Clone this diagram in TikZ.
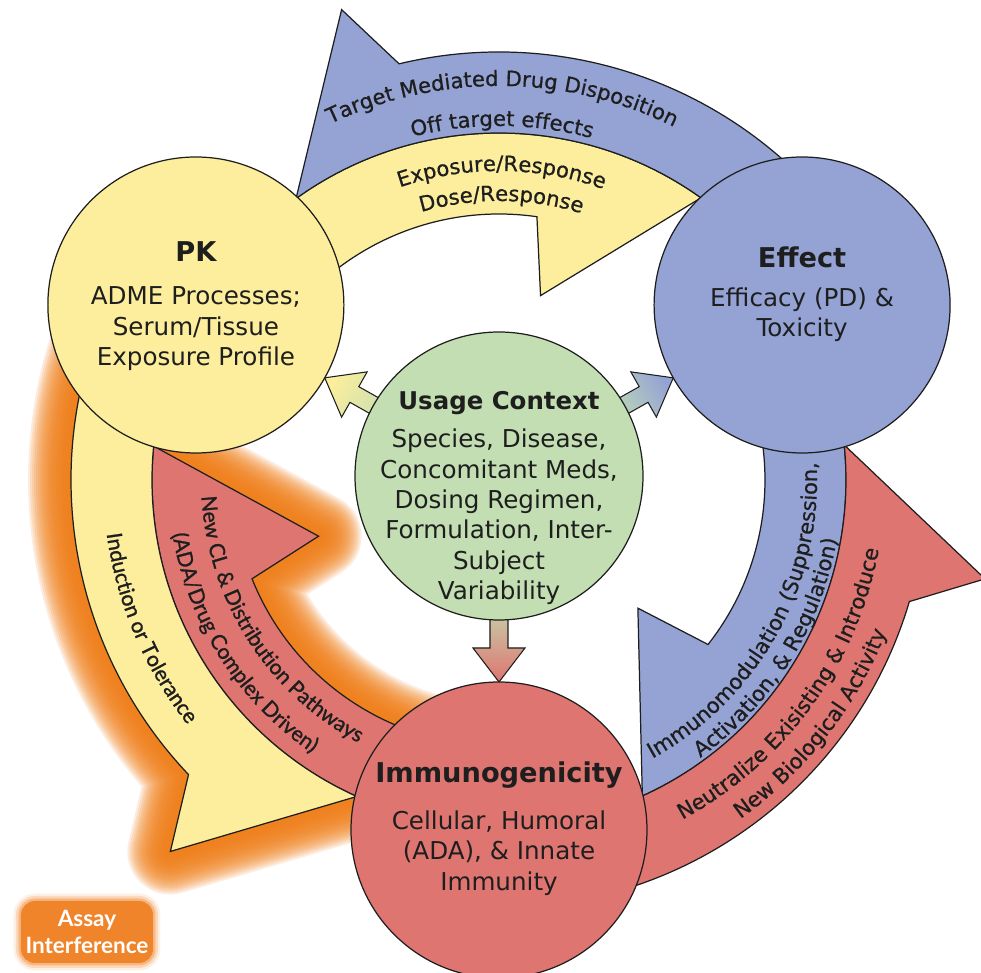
\documentclass[tikz,border=0pt]{standalone}
\usepackage{fontspec}
\setmainfont{DejaVu Sans}
\newfontface\arcfont[FakeBold=0.7]{DejaVu Sans}
\newfontface\latofont[FakeBold=1.2]{Lato}
\newfontface\latobold{Lato Bold}
\usepackage{tikz}
\usetikzlibrary{backgrounds, decorations.text}

\definecolor{pkyellow}{HTML}{FCEE9C}
\definecolor{effblue}{HTML}{94A3D4}
\definecolor{immred}{HTML}{DE7571}
\definecolor{ctxgreen}{HTML}{C3DEB3}
\definecolor{halo}{HTML}{EE7B14}
\definecolor{assayorange}{HTML}{F0842A}
\definecolor{ink}{HTML}{1E1E1E}

\newcommand{\arcsize}{\fontsize{12}{14}\selectfont}

\begin{document}
\begin{tikzpicture}[
    x=0.2mm, y=0.2mm,
    hub/.style={circle, draw=ink, line width=0.7pt, minimum size=59.2mm, inner sep=0pt},
    head/.style={text=ink, font=\fontsize{15.5}{18}\selectfont\bfseries},
    body/.style={text=ink, align=center, font=\fontsize{14}{17.3}\selectfont},
    band/.style={draw=ink, line width=0.7pt},
    fat/.style={draw=ink, line width=0.6pt},
    arctext/.style={decorate, decoration={text along path, text align=center,
                    text color=ink, text={#1}}},
    assay/.style={rounded corners=2.8mm, fill=assayorange, text=white, align=center,
                  minimum width=26.4mm, minimum height=12.4mm, inner sep=0pt,
                  font=\latobold\fontsize{12.8}{15.6}\selectfont,
                  preaction={draw=assayorange, draw opacity=0.12, line width=3mm},
                  preaction={draw=assayorange, draw opacity=0.22, line width=2mm},
                  preaction={draw=assayorange, draw opacity=0.4, line width=1mm}}
  ]

  \useasboundingbox (-499,-493) rectangle (482,480);

  % the four hubs
  \node[hub, fill=pkyellow] (pk) at (150:350) {};
  \node[hub, fill=effblue] (effect) at (30:350) {};
  \node[hub, fill=immred] (immuno) at (270:350) {};
  \node[hub, fill=ctxgreen, minimum size=57.6mm] (ctx) at (0,4) {};

  \node[head] (pk head) at ([yshift=10.6mm]pk.center) {PK};
  \node[body] (pk body) at ([yshift=-4.8mm]pk.center) {ADME Processes;\\Serum/Tissue\\Exposure Profile};
  \node[head] (effect head) at ([yshift=9.6mm]effect.center) {Effect};
  \node[body] (effect body) at ([yshift=-1.9mm]effect.center) {Efficacy (PD) \&\\Toxicity};
  \node[head] (immuno head) at ([yshift=11mm]immuno.center) {Immunogenicity};
  \node[body] (immuno body) at ([yshift=-4.6mm]immuno.center) {Cellular, Humoral\\(ADA), \& Innate\\Immunity};
  \node[head, font=\fontsize{13.9}{16}\selectfont\bfseries] (ctx head) at ([yshift=14.6mm]ctx.center) {Usage Context};
  \node[body] (ctx body) at ([yshift=-8.2mm]ctx.center)
    {Species, Disease,\\Concomitant Meds,\\Dosing Regimen,\\Formulation, Inter-\\Subject\\Variability};

  \node[assay] (assay) at (-412,-452) {Assay\\Interference};

  \begin{pgfonlayer}{background}
    % soft orange halo round the left pair
    \begin{scope}[rotate=120]
      \foreach \w in {86,82,...,10}
        \draw[halo, opacity=0.14, line width=\w*0.2mm, line join=round]
          (150:266) arc[start angle=150, end angle=81.8, radius=266] -- (77.3:189) -- (54.4:347)
          arc[start angle=54.4, end angle=150, radius=347] -- cycle
          (30:428) arc[start angle=30, end angle=103.5, radius=428] -- (108.5:496) -- (125.8:347)
          arc[start angle=125.8, end angle=30, radius=347] -- cycle;
    \end{scope}

    % one pair of curved arrows per side
    \foreach \rot/\cin/\cout in {0/pkyellow/effblue, -120/effblue/immred, 120/immred/pkyellow}{
      \begin{scope}[rotate=\rot]
        \filldraw[band, fill=\cin] (150:266) arc[start angle=150, end angle=81.8, radius=266]
          -- (77.3:189) -- (54.4:347) arc[start angle=54.4, end angle=150, radius=347] -- cycle;
        \filldraw[band, fill=\cout] (30:428) arc[start angle=30, end angle=103.5, radius=428]
          -- (108.5:496) -- (125.8:347) arc[start angle=125.8, end angle=30, radius=347] -- cycle;
      \end{scope}
    }

    % labels on the top pair
    \path[arctext={|\arcfont\arcsize|Target Mediated Drug Disposition}] (150:394) arc[start angle=150, end angle=29, radius=394];
    \path[arctext={|\arcfont\arcsize|Off target effects}] (150:354) arc[start angle=150, end angle=29, radius=354];
    \path[arctext={|\arcfont\arcsize|Exposure/Response}] (150:309) arc[start angle=150, end angle=29, radius=309];
    \path[arctext={|\arcfont\arcsize|Dose/Response}] (150:279) arc[start angle=150, end angle=29, radius=279];

    % labels on the right pair
    \path[arctext={|\arcfont\arcsize|Immunomodulation (Suppression,}] (-89:318) arc[start angle=-89, end angle=31, radius=318];
    \path[arctext={|\arcfont\arcsize|Activation, {\&} Regulation)}] (-92:343) arc[start angle=-92, end angle=28, radius=343];
    \path[arctext={|\arcfont\arcsize|Neutralize Exisisting {\&} Introduce}] (-96:386) arc[start angle=-96, end angle=24, radius=386];
    \path[arctext={|\arcfont\arcsize|New Biological Activity}] (-98:416) arc[start angle=-98, end angle=22, radius=416];

    % labels on the left pair
    \path[arctext={|\latofont\arcsize|Induction or Tolerance}] (143:396) arc[start angle=143, end angle=263, radius=396];
    \path[arctext={|\latofont\arcsize|New CL {\&} Distribution Pathways}] (152.5:298) arc[start angle=152.5, end angle=272.5, radius=298];
    \path[arctext={|\latofont\arcsize|(ADA/Drug Complex Driven)}] (152.5:331) arc[start angle=152.5, end angle=272.5, radius=331];

    % context arrows out to the hubs
    \foreach \ang/\len/\tip/\sh in {150.6/200/pkyellow/60.6, 29.4/200/effblue/-60.6, -90/206/immred/-180}
      \shadedraw[fat, top color=\tip, bottom color=ctxgreen, shading angle=\sh, shift={(ctx.center)}, rotate=\ang]
        (120,-9) -- ({\len-34},-9) -- ({\len-34},-26) -- (\len,0) -- ({\len-34},26) -- ({\len-34},9) -- (120,9) -- cycle;
  \end{pgfonlayer}

\end{tikzpicture}
\end{document}
